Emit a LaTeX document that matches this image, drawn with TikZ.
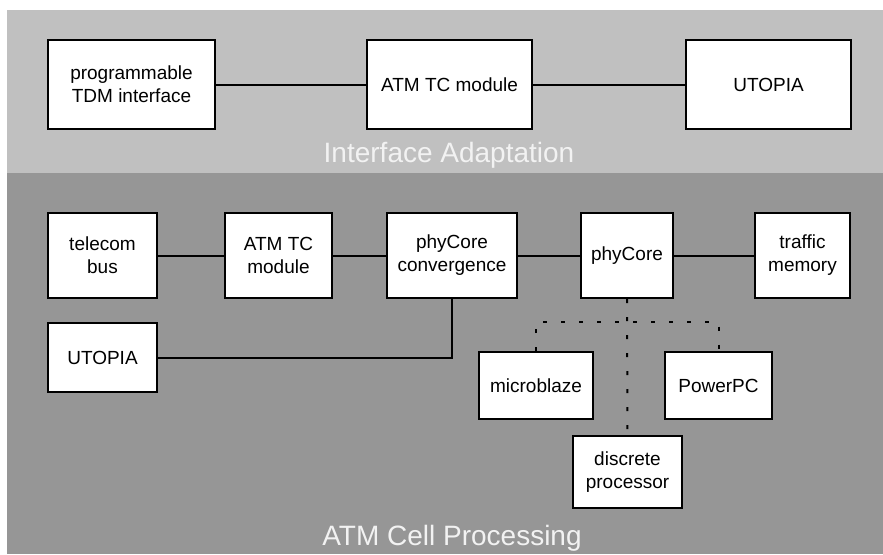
\documentclass[tikz,border=0pt]{standalone}
\usepackage{fontspec}
\setmainfont{Liberation Sans}
\definecolor{adaptgray}{RGB}{192,192,192}
\definecolor{cellgray}{RGB}{150,150,150}
\definecolor{titlegray}{RGB}{242,242,242}
\begin{document}
\begin{tikzpicture}[x=0.5pt, y=-0.5pt, line width=1pt,
  blk/.style={draw, fill=white, align=center, inner sep=0pt,
    font=\fontsize{9.5}{11.5}\selectfont},
  boxsz/.style 2 args={minimum width=#1, minimum height=#2},
  band/.style={font=\fontsize{14}{16}\selectfont, text=titlegray, anchor=base},
  opt/.style={dash pattern=on 2pt off 7pt}]
  \useasboundingbox (0,0) rectangle (883,554);
  \fill[adaptgray] (7,10) rectangle (883,173);
  \fill[cellgray] (7,173) rectangle (883,554);
  % interface adaptation
  \node[blk, boxsz={83.5pt}{44.5pt}] (tdm) at (131.5,84.5) {programmable\\TDM interface};
  \node[blk, boxsz={82.5pt}{44.5pt}] (atma) at (449.5,84.5) {ATM TC module};
  \node[blk, boxsz={82.5pt}{44.5pt}] (utopiaa) at (768.5,84.5) {UTOPIA};
  \draw (tdm) -- (atma) -- (utopiaa);
  \node[band] (adapt) at (449,162) {Interface Adaptation};
  % ATM cell processing
  \node[blk, boxsz={54.5pt}{42.5pt}] (tbus) at (102.5,255.5) {telecom\\bus};
  \node[blk, boxsz={53.5pt}{42.5pt}] (atmb) at (278.5,255.5) {ATM TC\\module};
  \node[blk, boxsz={65pt}{42.5pt}] (conv) at (452,255.5) {phyCore\\convergence};
  \node[blk, boxsz={46pt}{42.5pt}] (phy) at (627,255.5) {phyCore};
  \node[blk, boxsz={47.5pt}{42.5pt}] (tmem) at (802.5,255.5) {traffic\\memory};
  \node[blk, boxsz={54.5pt}{34.5pt}] (utopiab) at (102.5,357.5) {UTOPIA};
  \node[blk, boxsz={57pt}{33.5pt}] (mblz) at (536,385.5) {microblaze};
  \node[blk, boxsz={53.5pt}{33.5pt}] (ppc) at (718.5,385.5) {PowerPC};
  \node[blk, boxsz={54.5pt}{36pt}] (dproc) at (627.5,472) {discrete\\processor};
  \coordinate (split) at (627,322);
  \draw (tbus) -- (atmb) -- (conv) -- (phy) -- (tmem);
  \draw (conv.south) |- (utopiab.east);
  \draw[opt] (phy.south) -- (dproc.north);
  \draw[opt] (mblz.north) |- (split) -| (ppc.north);
  \node[band] (cell) at (452,545) {ATM Cell Processing};
\end{tikzpicture}
\end{document}
